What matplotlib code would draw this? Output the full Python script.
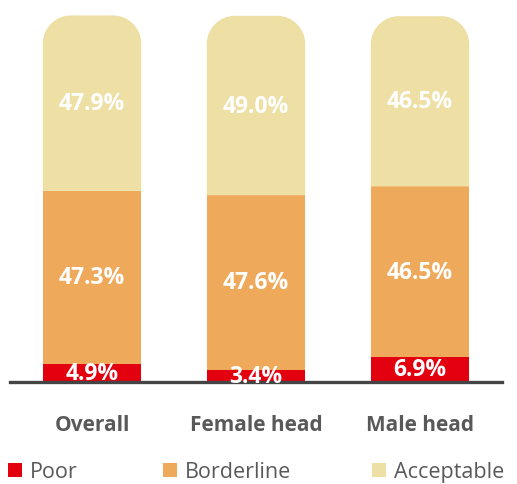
import matplotlib
matplotlib.use("Agg")
import matplotlib.pyplot as plt
from matplotlib.patches import Rectangle, PathPatch
from matplotlib.path import Path

categories = ["Overall", "Female head", "Male head"]
poor = [4.9, 3.4, 6.9]
borderline = [47.3, 47.6, 46.5]
acceptable = [47.9, 49.0, 46.5]
series_names = ["Poor", "Borderline", "Acceptable"]
colors = ["#E3000F", "#EFA95B", "#EEDFA4"]
text_gray = "#595959"

W, H, DPI = 517, 485, 100
fig = plt.figure(figsize=(W / DPI, H / DPI), dpi=DPI)
ax_left, ax_right, ax_bottom, ax_top = 10, 502, 383, 15  # pixels
ax = fig.add_axes([ax_left / W, (H - ax_bottom) / H,
                   (ax_right - ax_left) / W, (ax_bottom - ax_top) / H])
ax.set_xlim(-0.5, 2.5)
ax.set_ylim(0, 100.5)
for s in ax.spines.values():
    s.set_visible(False)
ax.set_yticks([])

x = list(range(len(categories)))
width = 0.6

# pixels per data unit, used for the rounded bar tops
px_x = (ax_right - ax_left) / 3.0
px_y = (ax_bottom - ax_top) / 100.5
radius_px = 28
rx, ry = radius_px / px_x, radius_px / px_y


def rounded_top(xc, y0, h, w, color):
    x0, x1 = xc - w / 2, xc + w / 2
    y1 = y0 + h
    k = 0.5523
    verts = [
        (x0, y0), (x1, y0), (x1, y1 - ry),
        (x1, y1 - ry + k * ry), (x1 - rx + k * rx, y1), (x1 - rx, y1),
        (x0 + rx, y1),
        (x0 + rx - k * rx, y1), (x0, y1 - ry + k * ry), (x0, y1 - ry),
        (x0, y0),
    ]
    codes = [Path.MOVETO, Path.LINETO, Path.LINETO,
             Path.CURVE4, Path.CURVE4, Path.CURVE4,
             Path.LINETO,
             Path.CURVE4, Path.CURVE4, Path.CURVE4,
             Path.CLOSEPOLY]
    ax.add_patch(PathPatch(Path(verts, codes), facecolor=color,
                           edgecolor="none", zorder=2))


label_kw = dict(ha="center", va="center", color="white", fontsize=16.5,
                fontweight="bold", fontfamily="Open Sans", zorder=4)

for i, xc in enumerate(x):
    ax.bar(xc, poor[i], width=width, color=colors[0], zorder=2)
    ax.bar(xc, borderline[i], bottom=poor[i], width=width, color=colors[1], zorder=2)
    base = poor[i] + borderline[i]
    rounded_top(xc, base, acceptable[i], width, colors[2])
    ax.text(xc, poor[i] / 2, f"{poor[i]:.1f}%", **label_kw)
    ax.text(xc, poor[i] + borderline[i] / 2, f"{borderline[i]:.1f}%", **label_kw)
    ax.text(xc, base + acceptable[i] / 2, f"{acceptable[i]:.1f}%", **label_kw)

ax.axhline(0, color="#444444", linewidth=2.4, zorder=3, clip_on=False)

ax.set_xticks(x)
ax.set_xticklabels(categories, fontsize=15, fontweight="bold",
                   fontfamily="Open Sans", color=text_gray)
ax.tick_params(axis="x", length=0, pad=23)

# legend row along the bottom
leg_x = [8, 163, 372]
for name, col, lx in zip(series_names, colors, leg_x):
    fig.patches.append(Rectangle((lx / W, (H - 478) / H), 14 / W, 14 / H,
                                 transform=fig.transFigure, facecolor=col,
                                 edgecolor="none"))
    fig.text((lx + 22) / W, (H - 478) / H, name, fontsize=15.5,
             fontfamily="Open Sans", color=text_gray, va="baseline", ha="left")

fig.savefig("out.png", dpi=DPI)
